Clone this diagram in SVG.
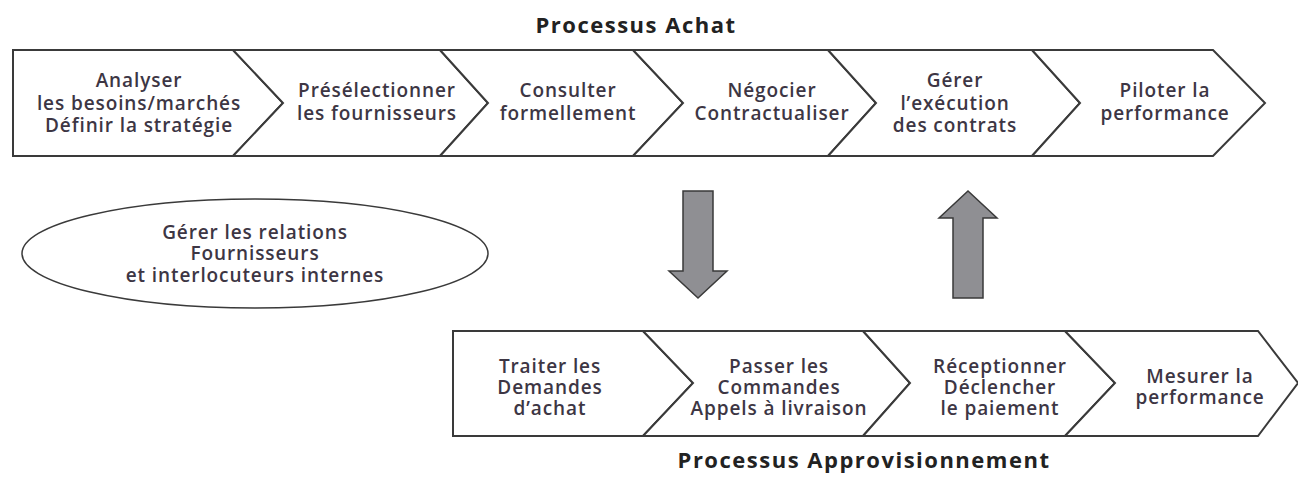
<svg xmlns="http://www.w3.org/2000/svg" width="1298" height="477" viewBox="0 0 1298 477">
<style>
.box{fill:#fff;stroke:#3a3a3a;stroke-width:2;stroke-linejoin:miter}
.t{font-family:"Open Sans","Noto Sans",sans-serif;font-size:19px;font-weight:600;letter-spacing:0.9px;fill:#3d3644;text-anchor:middle}
.title{font-family:"Open Sans","Noto Sans",sans-serif;font-size:22px;font-weight:bold;letter-spacing:1.5px;fill:#222;text-anchor:middle}
.arr{fill:#8f8f93;stroke:#3a3a3a;stroke-width:1.5}
</style>
<rect width="1298" height="477" fill="#fff"/>
<text class="title" x="636" y="33">Processus Achat</text>
<g id="a1"><polygon class="box" points="13,50 233,50 283,103 233,156 13,156"/>
<text class="t" x="139" y="87">Analyser</text><text class="t" x="139" y="110">les besoins/marchés</text><text class="t" x="139" y="132">Définir la stratégie</text></g>
<g id="a2"><polygon class="box" points="233,50 440,50 488,103 440,156 233,156 283,103"/>
<text class="t" x="377" y="97">Présélectionner</text><text class="t" x="377" y="120">les fournisseurs</text></g>
<g id="a3"><polygon class="box" points="440,50 633,50 683,103 633,156 440,156 488,103"/>
<text class="t" x="568" y="97">Consulter</text><text class="t" x="568" y="120">formellement</text></g>
<g id="a4"><polygon class="box" points="633,50 828,50 876,103 828,156 633,156 683,103"/>
<text class="t" x="772" y="97">Négocier</text><text class="t" x="772" y="120">Contractualiser</text></g>
<g id="a5"><polygon class="box" points="828,50 1032,50 1080,103 1032,156 828,156 876,103"/>
<text class="t" x="955" y="87">Gérer</text><text class="t" x="955" y="110">l’exécution</text><text class="t" x="955" y="132">des contrats</text></g>
<g id="a6"><polygon class="box" points="1032,50 1213,50 1265,103 1213,156 1032,156 1080,103"/>
<text class="t" x="1165" y="97">Piloter la</text><text class="t" x="1165" y="120">performance</text></g>
<g id="rel"><ellipse cx="255" cy="253.5" rx="233" ry="54.5" fill="#fff" stroke="#3a3a3a" stroke-width="1.5"/>
<text class="t" x="255" y="239">Gérer les relations</text><text class="t" x="255" y="260">Fournisseurs</text><text class="t" x="255" y="282">et interlocuteurs internes</text></g>
<g id="connectors">
<polygon class="arr" points="683,191 713,191 713,271 727,271 698,298 669,271 683,271"/>
<polygon class="arr" points="953,298 983,298 983,218 997,218 968,191 939,218 953,218"/>
</g>
<g id="b1"><polygon class="box" points="453,331 643,331 693,383 643,436 453,436"/>
<text class="t" x="550" y="373">Traiter les</text><text class="t" x="550" y="394">Demandes</text><text class="t" x="550" y="415">d’achat</text></g>
<g id="b2"><polygon class="box" points="643,331 863,331 910,383 863,436 643,436 693,383"/>
<text class="t" x="779" y="373">Passer les</text><text class="t" x="779" y="394">Commandes</text><text class="t" x="779" y="415">Appels à livraison</text></g>
<g id="b3"><polygon class="box" points="863,331 1065,331 1115,383 1065,436 863,436 910,383"/>
<text class="t" x="1000" y="373">Réceptionner</text><text class="t" x="1000" y="394">Déclencher</text><text class="t" x="1000" y="415">le paiement</text></g>
<g id="b4"><polygon class="box" points="1065,331 1258,331 1298,383 1258,436 1065,436 1115,383"/>
<text class="t" x="1200" y="383">Mesurer la</text><text class="t" x="1200" y="404">performance</text></g>
<text class="title" x="864" y="468">Processus Approvisionnement</text>
</svg>
